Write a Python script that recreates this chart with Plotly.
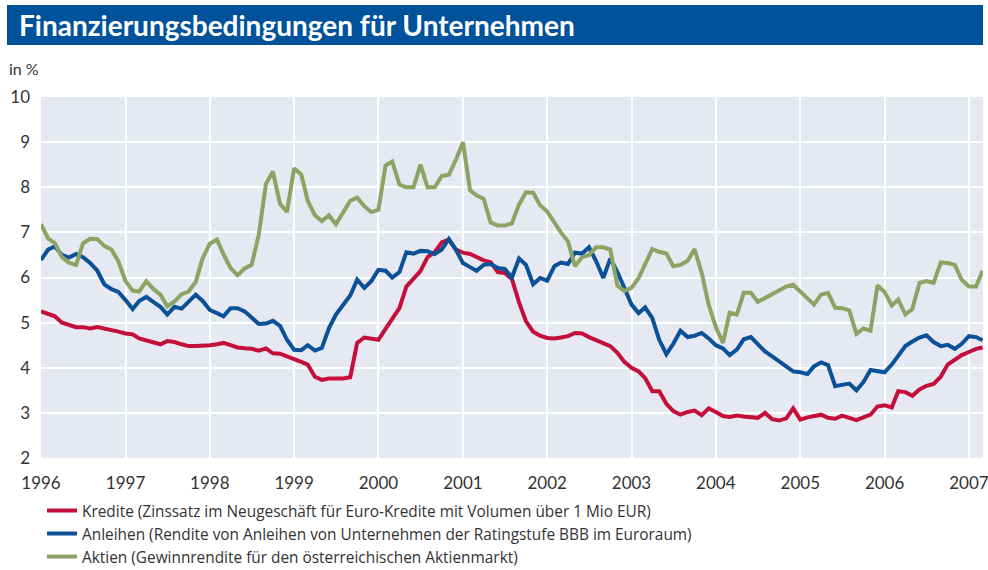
import plotly.graph_objects as go
import pandas as pd

# ---------------- data (monthly, Jan 1996 - Mar 2007) ----------------
months = pd.date_range("1996-01-01", periods=135, freq="MS")

kredite = [
    5.25, 5.2, 5.14, 5.0, 4.94, 4.9, 4.9, 4.87, 4.9, 4.87, 4.85, 4.8, 4.76, 4.74, 4.65, 4.6, 4.57, 4.52, 4.59, 4.57,
    4.52, 4.48, 4.48, 4.48, 4.5, 4.52, 4.55, 4.5, 4.45, 4.43, 4.42, 4.38, 4.43, 4.32, 4.31, 4.25, 4.2, 4.13, 4.07,
    3.8, 3.73, 3.76, 3.76, 3.76, 3.79, 4.55, 4.67, 4.65, 4.62, 4.86, 5.07, 5.32, 5.8, 5.99, 6.14, 6.45, 6.56, 6.78,
    6.84, 6.62, 6.55, 6.52, 6.45, 6.38, 6.34, 6.12, 6.1, 5.97, 5.45, 5.03, 4.8, 4.71, 4.66, 4.65, 4.67, 4.7, 4.77,
    4.76, 4.68, 4.61, 4.55, 4.48, 4.33, 4.13, 4.0, 3.92, 3.77, 3.48, 3.48, 3.2, 3.04, 2.96, 3.02, 3.05, 2.95, 3.1,
    3.02, 2.93, 2.91, 2.94, 2.92, 2.9, 2.89, 3.0, 2.86, 2.83, 2.88, 3.1, 2.85, 2.9, 2.93, 2.96, 2.89, 2.87, 2.94,
    2.9, 2.84, 2.9, 2.96, 3.14, 3.17, 3.12, 3.48, 3.46, 3.38, 3.52, 3.6, 3.64, 3.8, 4.07, 4.18, 4.28, 4.35, 4.42, 4.45,
]

anleihen = [
    6.39, 6.62, 6.69, 6.5, 6.44, 6.52, 6.45, 6.32, 6.15, 5.85, 5.74, 5.68, 5.5, 5.3, 5.48, 5.57, 5.46, 5.35, 5.18, 5.35,
    5.31, 5.46, 5.62, 5.48, 5.28, 5.21, 5.14, 5.32, 5.32, 5.25, 5.1, 4.97, 4.98, 5.04, 4.93, 4.62, 4.4, 4.39, 4.5,
    4.38, 4.44, 4.88, 5.18, 5.38, 5.6, 5.95, 5.77, 5.92, 6.17, 6.15, 6.0, 6.12, 6.56, 6.53, 6.59, 6.58, 6.52, 6.62,
    6.85, 6.62, 6.32, 6.23, 6.15, 6.28, 6.3, 6.21, 6.19, 6.0, 6.42, 6.28, 5.85, 5.99, 5.93, 6.25, 6.33, 6.3, 6.55,
    6.53, 6.67, 6.36, 5.99, 6.42, 6.12, 5.77, 5.4, 5.21, 5.34, 5.1, 4.62, 4.3, 4.53, 4.82, 4.68, 4.71, 4.77, 4.65,
    4.5, 4.43, 4.28, 4.4, 4.63, 4.68, 4.51, 4.36, 4.25, 4.14, 4.03, 3.92, 3.9, 3.86, 4.03, 4.12, 4.06, 3.59, 3.62,
    3.65, 3.5, 3.68, 3.95, 3.92, 3.9, 4.07, 4.27, 4.48, 4.58, 4.67, 4.72, 4.57, 4.48, 4.51, 4.42, 4.53, 4.7, 4.68, 4.61,
]

aktien = [
    7.18, 6.86, 6.76, 6.45, 6.33, 6.28, 6.76, 6.86, 6.85, 6.7, 6.62, 6.36, 5.92, 5.71, 5.69, 5.92, 5.75, 5.62, 5.36, 5.47,
    5.63, 5.69, 5.9, 6.43, 6.75, 6.84, 6.52, 6.21, 6.05, 6.2, 6.28, 6.95, 8.07, 8.35, 7.63, 7.45, 8.42, 8.28, 7.7,
    7.38, 7.25, 7.38, 7.18, 7.42, 7.7, 7.77, 7.58, 7.45, 7.5, 8.48, 8.57, 8.06, 8.0, 8.0, 8.5, 8.0, 8.0, 8.25,
    8.28, 8.6, 9.0, 7.93, 7.82, 7.74, 7.22, 7.15, 7.15, 7.2, 7.62, 7.89, 7.88, 7.6, 7.46, 7.22, 7.0, 6.8, 6.25,
    6.45, 6.5, 6.67, 6.67, 6.62, 5.82, 5.7, 5.77, 5.99, 6.3, 6.63, 6.57, 6.53, 6.25, 6.28, 6.37, 6.63, 6.1, 5.4,
    4.9, 4.55, 5.22, 5.18, 5.66, 5.66, 5.46, 5.55, 5.63, 5.71, 5.8, 5.84, 5.69, 5.51, 5.4, 5.62, 5.66, 5.33, 5.32,
    5.27, 4.75, 4.87, 4.82, 5.82, 5.68, 5.38, 5.51, 5.18, 5.3, 5.88, 5.92, 5.88, 6.33, 6.32, 6.28, 5.95, 5.8, 5.8, 6.15,
]

series_names = [
    "Kredite (Zinssatz im Neugeschäft für Euro-Kredite mit Volumen über 1 Mio EUR)",
    "Anleihen (Rendite von Anleihen von Unternehmen der Ratingstufe BBB im Euroraum)",
    "Aktien (Gewinnrendite für den österreichischen Aktienmarkt)",
]
year_ticks = list(range(1996, 2008))
y_ticks = list(range(2, 11))

title_text = "Finanzierungsbedingungen für Unternehmen"
unit_text = "in %"

# ---------------- styling ----------------
colors = ["#C40F3B", "#0A5197", "#8CA363"]
W, H = 988, 570
# plot area in screen pixels: x 41..983, y 97..458
ML, MR, MT, MB = 41, 988 - 983, 97, 570 - 458
PW, PH = W - ML - MR, H - MT - MB
FONT = "Lato"
TXT = "#333333"


def px_x(x):
    """screen x pixel -> paper fraction"""
    return (x - ML) / PW


def px_y(y):
    """screen y pixel -> paper fraction"""
    return (H - MB - y) / PH


fig = go.Figure()
for name, vals, col in zip(series_names, [kredite, anleihen, aktien], colors):
    fig.add_trace(go.Scatter(x=months, y=vals, mode="lines", name=name,
                             line=dict(color=col, width=4)))

fig.update_layout(
    width=W, height=H,
    margin=dict(l=ML, r=MR, t=MT, b=MB, autoexpand=False),
    paper_bgcolor="white",
    plot_bgcolor="#E6E8F2",
    font=dict(family=FONT, size=16, color=TXT),
    showlegend=True,
    legend=dict(xref="container", yref="container",
                x=42 / W, y=1 - 494 / H,
                xanchor="left", yanchor="top",
                orientation="v", bgcolor="rgba(0,0,0,0)",
                font=dict(family="Open Sans", size=15.4, color=TXT),
                tracegroupgap=0, itemwidth=30),
    xaxis=dict(type="date", range=["1996-01-01", "2007-03-03"],
               tickvals=[f"{y}-01-01" for y in year_ticks],
               ticktext=[str(y) for y in year_ticks],
               showgrid=True, gridcolor="white", gridwidth=2,
               zeroline=False, showline=False, ticks="",
               automargin=False, ticklabeloverflow="allow",
               tickfont=dict(family=FONT, size=17, color=TXT),
               ticklabelstandoff=13),
    yaxis=dict(range=[2, 10], tickvals=y_ticks,
               showgrid=True, gridcolor="white", gridwidth=2,
               zeroline=False, showline=False, ticks="",
               automargin=False,
               tickfont=dict(family=FONT, size=17, color=TXT),
               ticklabelstandoff=10),
    shapes=[dict(type="rect", xref="paper", yref="paper",
                 x0=px_x(7), x1=px_x(983), y0=px_y(45), y1=px_y(5),
                 fillcolor="#00539B", line=dict(width=0), layer="above")],
    annotations=[
        dict(text=f"<b>{title_text}</b>", xref="paper", yref="paper",
             x=px_x(17), y=px_y(25), xanchor="left", yanchor="middle",
             showarrow=False, font=dict(family=FONT, size=28, color="white")),
        dict(text=unit_text, xref="paper", yref="paper",
             x=px_x(7), y=px_y(68), xanchor="left", yanchor="middle",
             showarrow=False, font=dict(family=FONT, size=16, color=TXT)),
    ],
)

fig.write_html(
    "out.html",
    config={"displayModeBar": False},
    post_script="document.body.style.margin='0';document.body.style.overflow='hidden';",
)
